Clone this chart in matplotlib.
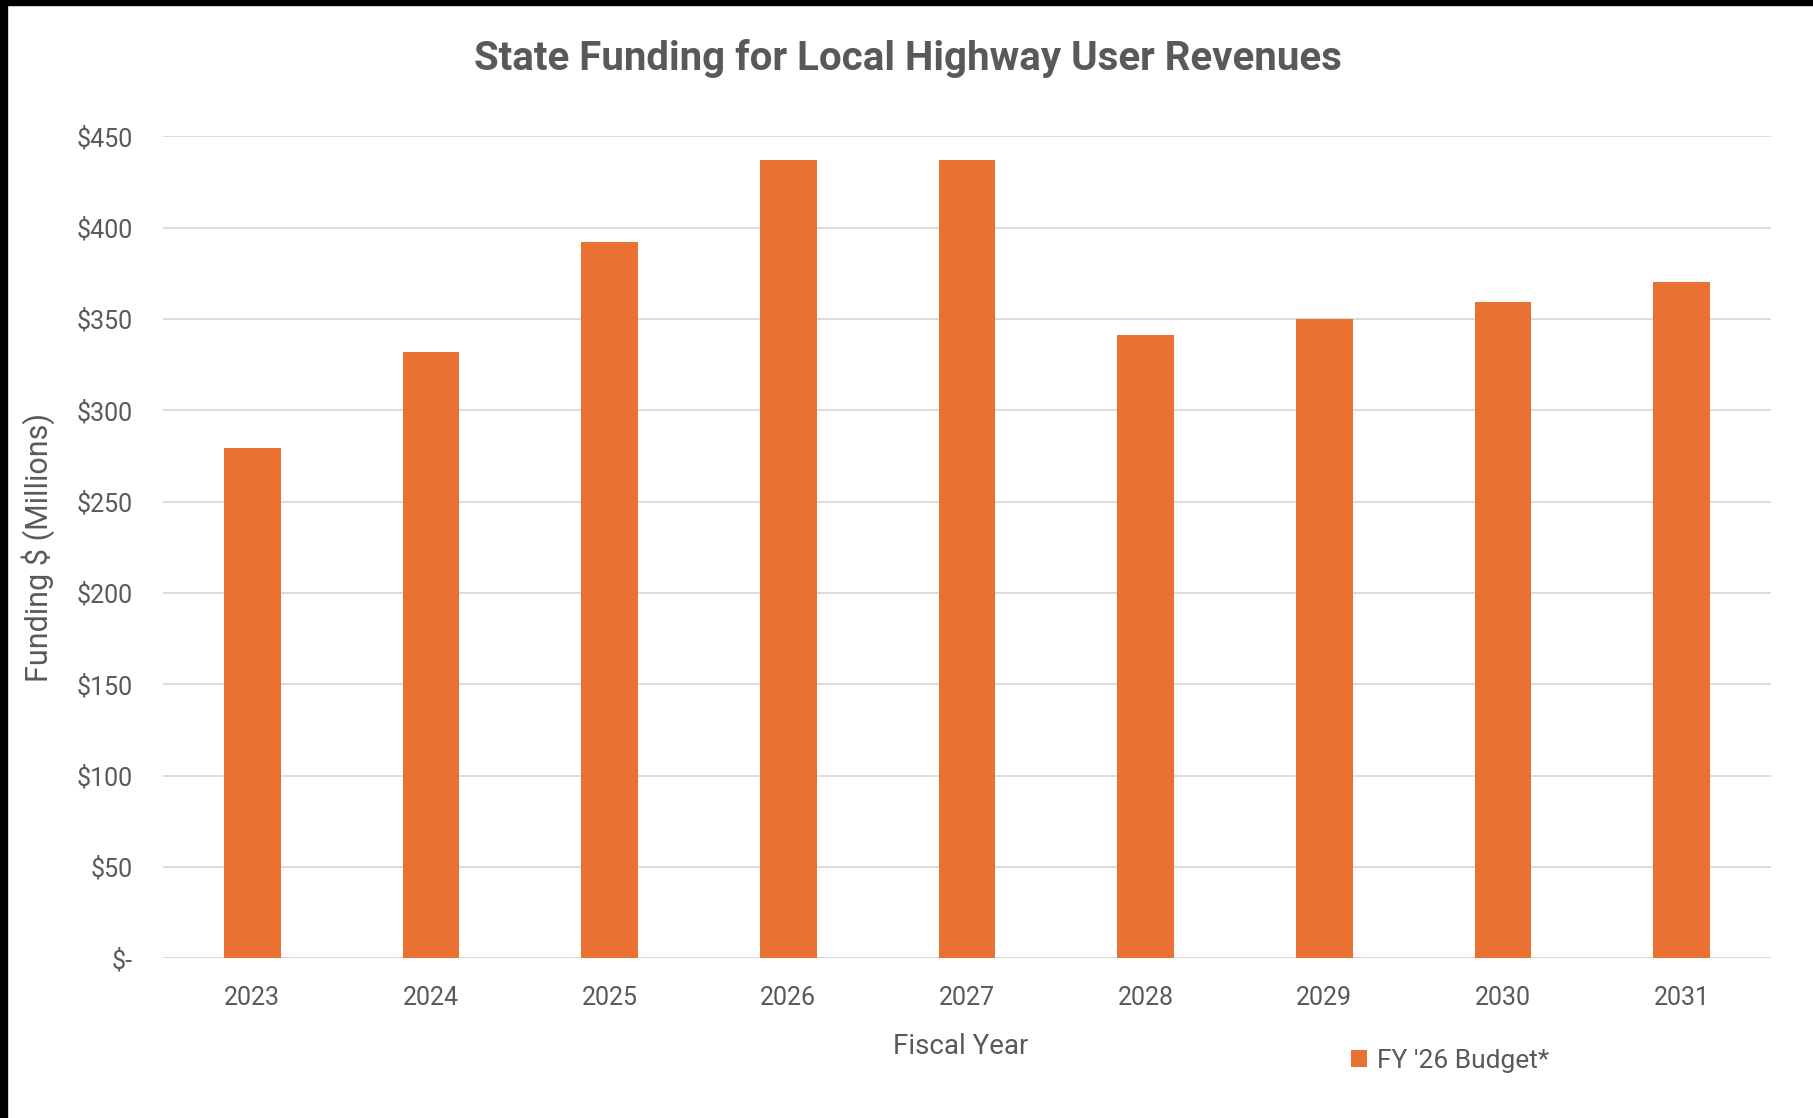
import matplotlib
matplotlib.use("Agg")
import matplotlib.pyplot as plt
from matplotlib import font_manager as fm
from matplotlib.patches import Rectangle

years = ["2023", "2024", "2025", "2026", "2027", "2028", "2029", "2030", "2031"]
funding = [279.6, 331.8, 392.4, 437.3, 437.3, 341.3, 349.9, 359.5, 370.1]
ytick_vals = [0, 50, 100, 150, 200, 250, 300, 350, 400, 450]
ytick_labels = ["$-", "$50", "$100", "$150", "$200", "$250", "$300", "$350", "$400", "$450"]
series_name = "FY '26 Budget*"

names = {f.name for f in fm.fontManager.ttflist}
fam = "Liberation Sans Narrow" if "Liberation Sans Narrow" in names else "Roboto"
plt.rcParams['font.family'] = [fam, 'DejaVu Sans']

txt = "#595959"
orange = "#E97132"
grid = "#D9D9D9"

fig = plt.figure(figsize=(18.13, 11.18), dpi=100)
ax = fig.add_axes([0.0899, 0.1427, 0.9768 - 0.0899, 0.878 - 0.1427])

x = list(range(len(years)))
ax.bar(x, funding, width=0.317, color=orange, label=series_name, zorder=3)
ax.set_xlim(-0.5, len(years) - 0.5)
ax.set_ylim(0, 450)
ax.set_yticks(ytick_vals)
ax.set_yticklabels(ytick_labels)
ax.set_xticks(x)
ax.set_xticklabels(years)
ax.tick_params(axis='both', length=0, labelsize=18, labelcolor=txt)
ax.tick_params(axis='y', pad=22)
ax.tick_params(axis='x', pad=20)
ax.yaxis.grid(True, color=grid, linewidth=1.3, zorder=0)
for s in ax.spines.values():
    s.set_visible(False)
ax.axhline(0, color=grid, linewidth=1.5, zorder=2)

fig.text(0.501, 0.948, "State Funding for Local Highway User Revenues",
         ha='center', va='center', fontsize=29, fontweight='bold', color=txt)
fig.text(0.530, 0.064, "Fiscal Year", ha='center', va='center', fontsize=20, color=txt)
fig.text(0.021, 0.51, "Funding $ (Millions)", ha='center', va='center',
         rotation=90, fontsize=22, color=txt)

leg = ax.legend(loc='center', bbox_to_anchor=(0.8, 0.051), bbox_transform=fig.transFigure,
                frameon=False, fontsize=19, handlelength=0.6, handleheight=0.6,
                handletextpad=0.4, labelcolor=txt)

# black border strips from the screenshot
fig.patches.append(Rectangle((0, 1 - 5 / 1118), 1, 5 / 1118, transform=fig.transFigure,
                             color='black', zorder=10))
fig.patches.append(Rectangle((0, 0), 7 / 1813, 1, transform=fig.transFigure,
                             color='black', zorder=10))

fig.savefig("out.png", dpi=100)
